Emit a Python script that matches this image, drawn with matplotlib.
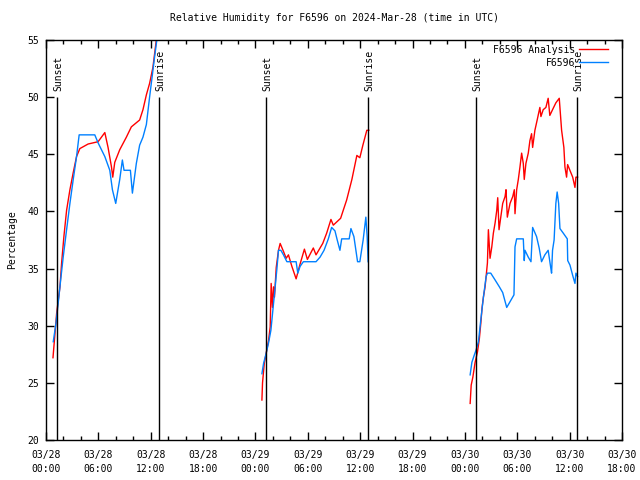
import numpy as np
import matplotlib
matplotlib.use("Agg")
import matplotlib.pyplot as plt

nan = np.nan

# hours since 2024-03-28 00:00 UTC; NaN separates the three night segments
analysis_hours = [
    0.80, 1.22, 1.60, 1.79, 2.05, 2.36, 2.74, 3.12, 3.50, 3.88, 4.83, 5.97, 6.74, 7.11,
    7.50, 7.65, 7.88, 8.45, 9.21, 9.78, 10.73, 11.11, 11.50, 11.87, 12.25, 12.64, 12.80,
    nan,
    24.74, 24.81, 25.01, 25.23, 25.50, 25.69, 25.80, 25.95, 26.07, 26.18, 26.38, 26.64,
    26.83, 27.21, 27.52, 27.78, 28.17, 28.66, 29.04, 29.61, 29.95, 30.63, 30.94, 31.71,
    32.16, 32.65, 32.92, 33.76, 34.06, 34.45, 35.05, 35.62, 35.96, 36.31, 36.76, 36.99,
    nan,
    48.60, 48.72, 48.91, 49.17, 49.44, 49.66, 49.82, 49.97, 50.12, 50.31, 50.43, 50.58,
    50.69, 50.88, 51.08, 51.26, 51.46, 51.65, 51.76, 51.91, 52.11, 52.33, 52.60, 52.71,
    52.86, 53.17, 53.48, 53.66, 53.74, 53.93, 54.12, 54.31, 54.50, 54.69, 54.80, 54.99,
    55.26, 55.45, 55.64, 55.76, 56.02, 56.28, 56.59, 56.71, 56.97, 57.28, 57.54, 57.73,
    58.04, 58.42, 58.81, 59.08, 59.34, 59.46, 59.65, 59.77, 60.03, 60.35, 60.61, 60.72,
    60.91,
]
analysis_rh = [
    27.2, 31.1, 33.4, 35.5, 37.8, 40.1, 41.9, 43.4, 44.8, 45.5, 45.9, 46.1, 46.9, 45.6,
    43.9, 43.0, 44.3, 45.4, 46.5, 47.4, 48.0, 48.9, 50.2, 51.2, 52.6, 55.0, 55.8,
    nan,
    23.5, 25.0, 26.7, 27.6, 28.7, 29.9, 33.7, 31.6, 33.4, 32.5, 35.1, 36.6,
    37.2, 36.5, 35.9, 36.2, 35.2, 34.1, 35.2, 36.7, 35.8, 36.8, 36.2, 37.2,
    38.1, 39.3, 38.8, 39.4, 40.1, 41.0, 42.8, 44.9, 44.7, 45.8, 47.1, 47.1,
    nan,
    23.2, 24.8, 25.5, 26.8, 27.7, 28.9, 30.2, 31.6, 32.5, 33.4, 34.3, 35.5,
    38.4, 35.9, 36.9, 38.1, 39.0, 40.1, 41.2, 38.4, 39.5, 40.7, 41.3, 41.9,
    39.5, 40.7, 41.3, 41.9, 39.8, 41.9, 42.8, 43.9, 45.1, 44.2, 42.8, 44.2,
    45.1, 46.2, 46.8, 45.6, 47.1, 48.0, 49.1, 48.3, 48.9, 49.1, 49.9, 48.4,
    48.9, 49.5, 49.9, 47.1, 45.6, 43.9, 43.0, 44.1, 43.6, 43.0, 42.1, 43.0,
    43.0,
]

station_hours = [
    0.83, 1.14, 1.40, 1.68, 1.97, 2.36, 2.74, 3.12, 3.50, 3.80, 5.59, 5.97, 6.74, 7.31,
    7.61, 7.99, 8.45, 8.75, 8.94, 9.67, 9.90, 10.35, 10.73, 11.11, 11.50, 11.87, 12.44,
    12.70,
    nan,
    24.74, 24.93, 25.23, 25.50, 25.77, 26.00, 26.26, 26.46, 26.64, 26.91, 27.21, 27.60,
    28.66, 28.85, 29.12, 29.49, 30.94, 31.40, 31.86, 32.35, 32.73, 33.11, 33.37, 33.68,
    33.88, 34.74, 34.94, 35.28, 35.70, 35.96, 36.34, 36.65, 36.80, 36.91,
    nan,
    48.60, 48.80, 49.06, 49.29, 49.55, 49.82, 50.12, 50.43, 50.58, 50.96, 51.46, 51.95,
    52.33, 52.79, 53.17, 53.62, 53.74, 53.93, 54.69, 54.80, 54.88, 55.26, 55.57, 55.76,
    56.21, 56.51, 56.78, 57.16, 57.54, 57.81, 57.93, 58.04, 58.22, 58.42, 58.57, 58.74,
    58.89, 59.27, 59.73, 59.78, 60.04, 60.35, 60.61, 60.72, 60.91,
]
station_rh = [
    28.6, 30.2, 32.0, 34.0, 36.0, 38.4, 40.7, 42.8, 44.8, 46.7, 46.7, 46.0, 44.8, 43.6,
    41.9, 40.7, 42.8, 44.5, 43.6, 43.6, 41.6, 44.2, 45.8, 46.5, 47.6, 50.0, 53.5,
    55.0,
    nan,
    25.8, 26.7, 27.6, 28.5, 29.6, 31.4, 33.4, 35.0, 36.6, 36.6, 36.2, 35.6,
    35.6, 34.6, 35.2, 35.6, 35.6, 36.0, 36.6, 37.6, 38.6, 38.3, 37.5, 36.6,
    37.6, 37.6, 38.5, 37.8, 35.6, 35.6, 37.5, 39.5, 37.8, 35.6,
    nan,
    25.7, 26.8, 27.4, 27.9, 28.6, 30.5, 32.5, 34.3, 34.6, 34.6, 34.0, 33.4,
    32.9, 31.6, 32.1, 32.7, 36.9, 37.6, 37.6, 35.7, 36.6, 36.0, 35.6, 38.6,
    37.8, 36.8, 35.6, 36.2, 36.6, 35.2, 34.6, 36.6, 37.5, 40.7, 41.7, 40.7,
    38.5, 38.1, 37.6, 35.7, 35.3, 34.4, 33.7, 34.6, 34.3,
]

sun_hours = [1.23, 12.98, 25.21, 36.93, 49.27, 60.88]
sun_labels = ["Sunset", "Sunrise", "Sunset", "Sunrise", "Sunset", "Sunrise"]

tick_hours = [0, 6, 12, 18, 24, 30, 36, 42, 48, 54, 60, 66]
tick_labels = [
    "03/28\n00:00", "03/28\n06:00", "03/28\n12:00", "03/28\n18:00",
    "03/29\n00:00", "03/29\n06:00", "03/29\n12:00", "03/29\n18:00",
    "03/30\n00:00", "03/30\n06:00", "03/30\n12:00", "03/30\n18:00",
]

plt.rcParams["font.family"] = ["DejaVu Sans Mono"]
plt.rcParams["font.size"] = 7

fig = plt.figure(figsize=(6.4, 4.8), dpi=100)
ax = fig.add_axes([46 / 640, 1 - 440 / 480, 576 / 640, 400 / 480])

ax.plot(analysis_hours, analysis_rh, color="#ff0000", lw=1, label="F6596 Analysis")
ax.plot(station_hours, station_rh, color="#0080ff", lw=1, label="F6596")

for t, lab in zip(sun_hours, sun_labels):
    ax.vlines(t, 20, 50, color="black", lw=1)
    ax.text(t + 0.15, 50.5, lab, rotation=90, ha="center", va="bottom")

ax.set_xlim(0, 66)
ax.set_ylim(20, 55)
ax.set_xticks(tick_hours)
ax.set_xticklabels(tick_labels, linespacing=1.5)
ax.set_xticks(np.arange(0, 67, 2), minor=True)
ax.set_yticks(range(20, 56, 5))

ax.tick_params(which="both", direction="in", top=True, right=True, width=1)
ax.tick_params(which="major", length=6, pad=7)
ax.tick_params(axis="y", which="major", pad=5)
ax.tick_params(which="minor", length=3)
for s in ax.spines.values():
    s.set_linewidth(1)

ax.set_ylabel("Percentage", fontsize=7, labelpad=7)
ax.set_title("Relative Humidity for F6596 on 2024-Mar-28 (time in UTC)", fontsize=7, pad=14)

ax.legend(loc="upper right", frameon=False, markerfirst=False, handlelength=3.0,
          borderaxespad=0.1, labelspacing=0.3, handletextpad=0.4, fontsize=7,
          bbox_to_anchor=(0.985, 1.0))

fig.savefig("out.png", dpi=100)
